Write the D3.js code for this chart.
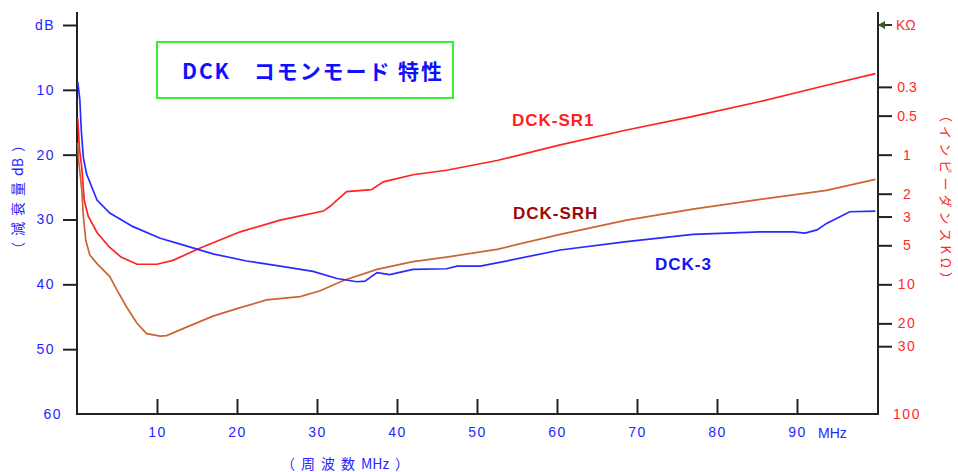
<!DOCTYPE html>
<html>
<head>
<meta charset="utf-8">
<title>DCK コモンモード 特性</title>
<script src="https://cdn.jsdelivr.net/npm/d3@7"></script>
<style>
  * { margin: 0; padding: 0; }
  body { background: #fff; }
  #chart { width: 958px; height: 472px; }
  .num { font-family: "Liberation Sans", Arial, sans-serif; }
  .jp { font-family: "Noto Sans CJK JP", sans-serif; }
</style>
</head>
<body>
<div id="chart"></div>
<script>
// frequency (MHz) / attenuation (dB)
var freqSR1 = [0.1, 0.3, 0.6, 0.9, 1.4, 2.5, 4.0, 5.5, 7.5, 10, 12, 15.4, 20.4, 25.4, 30.8, 31.6, 33.7, 36.8, 38.3, 42, 46.2, 52.5, 60.4, 68.7, 77, 85.4, 93.7, 99.8];
var dbSR1   = [14.4, 19, 22, 27, 29.5, 32, 34.2, 35.8, 36.9, 36.9, 36.3, 34.4, 31.9, 30.1, 28.7, 28.0, 25.7, 25.4, 24.2, 23.1, 22.4, 20.9, 18.5, 16.2, 14.1, 11.8, 9.3, 7.5];

var freqSRH = [0.1, 0.2, 0.6, 0.8, 1.1, 1.6, 2.5, 4.1, 5.0, 6.2, 7.5, 8.7, 10.4, 11.2, 13.7, 17, 20.4, 23.7, 27.9, 30.4, 33.3, 37.5, 42, 46.2, 52.5, 60.4, 68.7, 77, 85.4, 93.7, 99.8];
var dbSRH   = [18.2, 20.8, 25.5, 29.6, 33.2, 35.5, 36.8, 38.8, 40.9, 43.5, 46, 47.6, 48.0, 47.9, 46.6, 44.9, 43.6, 42.4, 41.9, 41.0, 39.4, 37.7, 36.5, 35.8, 34.6, 32.3, 30.1, 28.4, 26.9, 25.5, 23.8];

var freq3 = [0.1, 0.35, 0.55, 0.8, 1.2, 2.5, 4.1, 7, 10.4, 12.9, 17, 21.2, 25.4, 29.5, 32.5, 35, 36, 37.5, 39.1, 42, 46.2, 47.5, 50.4, 52.5, 60.4, 68.7, 77, 85.4, 89.5, 91, 92.5, 93.7, 96.6, 99.8];
var db3   = [8.8, 11.5, 16.5, 20.5, 23, 27, 29, 31.1, 32.9, 33.8, 35.3, 36.4, 37.2, 38.0, 39.1, 39.6, 39.5, 38.2, 38.5, 37.7, 37.6, 37.2, 37.2, 36.7, 34.7, 33.4, 32.3, 31.9, 31.9, 32.1, 31.6, 30.6, 28.8, 28.7];

var seriesNames = ["DCK-SR1", "DCK-SRH", "DCK-3"];
var dbTicks = [0, 10, 20, 30, 40, 50, 60];
var freqTicks = [10, 20, 30, 40, 50, 60, 70, 80, 90];
var ohmTicks = [0.3, 0.5, 1, 2, 3, 5, 10, 20, 30, 100];

var svg = d3.select("#chart").append("svg")
    .attr("width", 958)
    .attr("height", 472);

var x = d3.scaleLinear().domain([0, 100]).range([77, 877]);
var yDb = d3.scaleLinear().domain([0, 60]).range([25, 414]);
var yOhm = d3.scaleLog().domain([0.1, 100]).range([25, 414]);

var blueTxt = "#2626ff";
var redTxt = "#ff2a2a";
var axisTop = 12;

// left axis (dB)
var gl = svg.append("g").attr("transform", "translate(" + x(0) + ",0)")
  .call(d3.axisLeft(yDb).tickValues(dbTicks).tickSize(14).tickPadding(8)
    .tickFormat(function(d) { return d == 0 ? "dB" : d; }));
gl.select(".domain").remove();
gl.selectAll(".tick line").attr("stroke", "#222").attr("stroke-width", 2);
gl.selectAll(".tick text").attr("class", "num").attr("fill", blueTxt)
  .attr("font-size", 14).attr("letter-spacing", 1.5);
gl.selectAll(".tick").filter(function(d) { return d == 60; })
  .each(function() {
    d3.select(this).select("line").remove();
    d3.select(this).select("text").attr("x", -15);
  });

// right axis (kOhm)
var gr = svg.append("g").attr("transform", "translate(" + (x(100) + 1) + ",0)")
  .call(d3.axisRight(yOhm).tickValues(ohmTicks).tickSize(14).tickPadding(16)
    .tickFormat(function(d) { return String(d); }));
gr.select(".domain").remove();
gr.selectAll(".tick line").attr("stroke", "#222").attr("stroke-width", 2);
gr.selectAll(".tick text").attr("class", "num").attr("fill", redTxt)
  .attr("font-size", 14).attr("text-anchor", "middle").attr("x", 29)
  .attr("letter-spacing", function(d) { return d >= 10 ? 1.5 : 0; });
gr.selectAll(".tick").filter(function(d) { return d == 100; })
  .select("line").remove();

// KΩ marker at top of right axis
svg.append("line")
  .attr("x1", x(100) + 1).attr("x2", x(100) + 15)
  .attr("y1", yDb(0)).attr("y2", yDb(0))
  .attr("stroke", "#333").attr("stroke-width", 2);
svg.append("path")
  .attr("d", "M" + (x(100) + 1) + "," + yDb(0) + " l7,-4 l0,8 z")
  .attr("fill", "#3c5a1e");
svg.append("text").attr("class", "num")
  .attr("x", x(100) + 19).attr("y", yDb(0)).attr("dy", "0.35em")
  .attr("fill", redTxt).attr("font-size", 14)
  .text("KΩ");

// bottom axis (MHz)
var gb = svg.append("g").attr("transform", "translate(0," + yDb(60) + ")")
  .call(d3.axisBottom(x).tickValues(freqTicks).tickSize(-15).tickPadding(13));
gb.select(".domain").remove();
gb.selectAll(".tick line").attr("stroke", "#222").attr("stroke-width", 2);
gb.selectAll(".tick text").attr("class", "num").attr("fill", blueTxt)
  .attr("font-size", 14).attr("letter-spacing", 1.5);
svg.append("text").attr("class", "num")
  .attr("x", x(90) + 21).attr("y", yDb(60) + 24)
  .attr("fill", blueTxt).attr("font-size", 14)
  .text("MHz");

// frame lines
svg.append("line").attr("x1", x(0)).attr("x2", x(0))
  .attr("y1", axisTop).attr("y2", yDb(60) + 1)
  .attr("stroke", "#222").attr("stroke-width", 2);
svg.append("line").attr("x1", x(100) + 1).attr("x2", x(100) + 1)
  .attr("y1", axisTop).attr("y2", yDb(60) + 1)
  .attr("stroke", "#222").attr("stroke-width", 2);
svg.append("line").attr("x1", x(0)).attr("x2", x(100) + 1)
  .attr("y1", yDb(60)).attr("y2", yDb(60))
  .attr("stroke", "#222").attr("stroke-width", 2);

// axis titles: spaced kanji part + plain unit part
function spacedTitle(t, jpPart, unitPart) {
  t.append("tspan").attr("letter-spacing", 6).text(jpPart);
  t.append("tspan").attr("letter-spacing", 0).text(unitPart);
  t.append("tspan").attr("dx", 6).text("）");
}
svg.append("text").attr("class", "jp")
  .attr("transform", "translate(18,197) rotate(-90)")
  .attr("text-anchor", "middle").attr("dy", "0.35em")
  .attr("fill", blueTxt).attr("font-size", 14)
  .call(spacedTitle, "（減衰量", "dB");
svg.append("text").attr("class", "jp")
  .attr("transform", "translate(946,197) rotate(90)")
  .attr("text-anchor", "middle").attr("dy", "0.35em")
  .attr("fill", redTxt).attr("font-size", 13)
  .attr("textLength", 176).attr("lengthAdjust", "spacing")
  .text("（インピーダンスKΩ）");
svg.append("text").attr("class", "jp")
  .attr("x", 345).attr("y", 464)
  .attr("text-anchor", "middle").attr("dy", "0.35em")
  .attr("fill", blueTxt).attr("font-size", 14)
  .call(spacedTitle, "（周波数", "MHz");

// title box
svg.append("rect")
  .attr("x", 157).attr("y", 42).attr("width", 296).attr("height", 56)
  .attr("fill", "none").attr("stroke", "#33ee33").attr("stroke-width", 2);
svg.append("text").attr("class", "jp")
  .attr("x", 182).attr("y", 72).attr("dy", "0.35em")
  .attr("fill", "#1010ff").attr("font-size", 21).attr("font-weight", "bold")
  .attr("textLength", 260).attr("lengthAdjust", "spacing")
  .text("DCK　コモンモード 特性");

// curves
var line = d3.line()
  .x(function(d) { return x(d[0]); })
  .y(function(d) { return yDb(d[1]); });

var curves = [
  { name: seriesNames[0], f: freqSR1, v: dbSR1, color: "#ff2323" },
  { name: seriesNames[1], f: freqSRH, v: dbSRH, color: "#cc6433" },
  { name: seriesNames[2], f: freq3, v: db3, color: "#2a2aff" }
];

svg.selectAll("path.curve").data(curves)
  .enter().append("path")
    .attr("class", "curve")
    .attr("d", function(c) { return line(d3.zip(c.f, c.v)); })
    .attr("fill", "none")
    .attr("stroke", function(c) { return c.color; })
    .attr("stroke-width", 1.7);

// series labels
var labels = [
  { text: seriesNames[0], lx: 512, ly: 120, color: "#ff2020" },
  { text: seriesNames[1], lx: 513, ly: 213, color: "#a00808" },
  { text: seriesNames[2], lx: 655, ly: 264, color: "#1414ee" }
];
svg.selectAll("text.series").data(labels)
  .enter().append("text")
    .attr("class", "series num")
    .attr("x", function(d) { return d.lx; })
    .attr("y", function(d) { return d.ly; })
    .attr("dy", "0.35em")
    .attr("fill", function(d) { return d.color; })
    .attr("font-size", 17).attr("font-weight", "bold")
    .attr("letter-spacing", 1)
    .text(function(d) { return d.text; });
</script>
</body>
</html>
